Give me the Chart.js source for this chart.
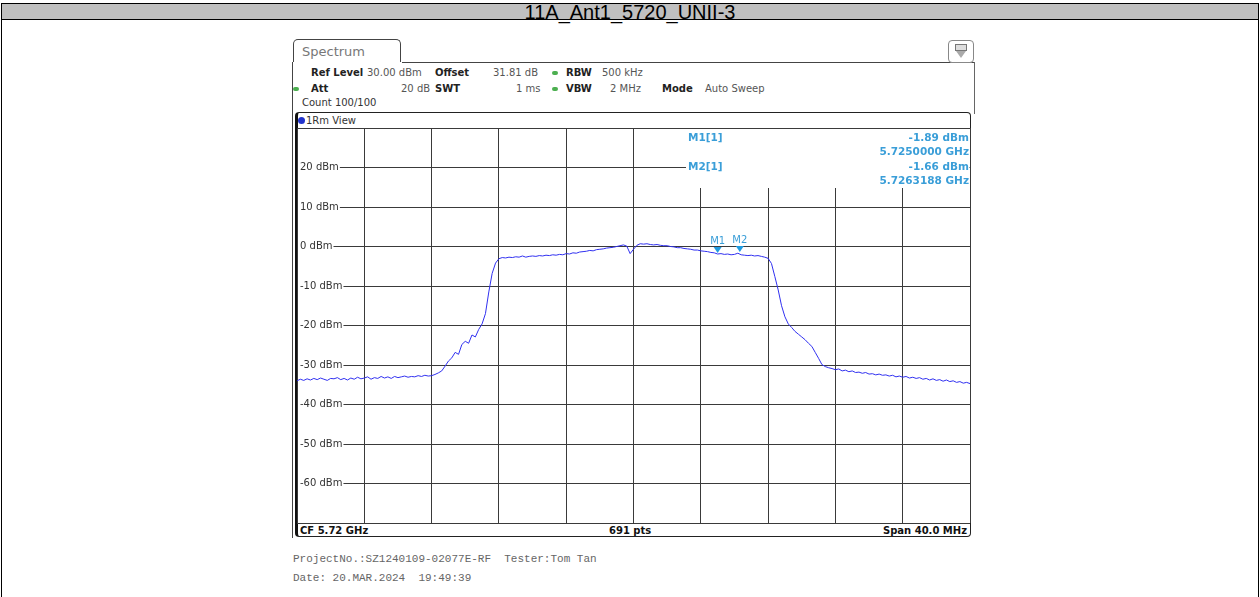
<!DOCTYPE html>
<html>
<head>
<meta charset="utf-8">
<script src="https://cdn.jsdelivr.net/npm/chart.js@4.4.1/dist/chart.umd.min.js"></script>
<style>
  html, body { margin: 0; padding: 0; background: #fff; }
  #page { position: relative; width: 1260px; height: 597px; overflow: hidden; font-family: "DejaVu Sans", sans-serif; }
  .abs { position: absolute; white-space: nowrap; }
  #outer { left: 1px; top: 3px; width: 1256px; height: 620px; border: 1px solid #000; border-bottom: none; }
  #title { left: 1px; top: 3px; width: 1256px; height: 15px; background: #c0c0c0; border: 1px solid #000;
           font-family: "Liberation Sans", Arial, sans-serif; font-size: 20px; line-height: 16px; text-align: center; color: #000; }
  #tab { left: 293px; top: 39px; width: 108px; height: 23px; border: 1.5px solid #444; border-bottom: none; border-radius: 5px 5px 0 0;
         background: #fff; font-size: 13px; color: #777; line-height: 24px; padding-left: 8px; box-sizing: border-box; }
  #headline { left: 402px; top: 62px; width: 573px; height: 0; border-top: 1.5px solid #444; }
  #rightline { left: 974px; top: 62px; width: 0; height: 52px; border-left: 1px solid #666; }
  #leftline { left: 292px; top: 62px; width: 0; height: 476px; border-left: 1.5px solid #444; }
  #icon { left: 948px; top: 40px; width: 24px; height: 21px; border: 1px solid #888; border-radius: 4px; background: #fff; }
  #frame { left: 295px; top: 112px; width: 676px; height: 425px; border: 1.5px solid #222; border-left: 3px solid #111;
           border-radius: 4px; box-sizing: border-box; background: #fff; }
  #viewbar { left: 297px; top: 113px; width: 673px; height: 15px; border-bottom: 1px solid #222; font-size: 10px; color: #333; line-height: 15px; }
  #bottombar { left: 297px; top: 523px; width: 673px; height: 13px; border-top: 1px solid #222; font-size: 10px; font-weight: bold; color: #111; line-height: 14px; }
  .h { font-size: 10px; color: #555; line-height: 12px; }
  .b { font-weight: bold; color: #222; }
  .dot { width: 6px; height: 4px; border-radius: 3px; background: #4caf50; }
  .foot { font-family: "Liberation Mono", "DejaVu Sans Mono", monospace; font-size: 11px; color: #666; white-space: pre; }
  #chart { position: absolute; left: 0; top: 0; }
</style>
</head>
<body>
<div id="page">
  <div id="outer" class="abs"></div>
  <div id="title" class="abs">11A_Ant1_5720_UNII-3</div>

  <div id="leftline" class="abs"></div>
  <div id="tab" class="abs">Spectrum</div>
  <div id="headline" class="abs"></div>
  <div id="rightline" class="abs"></div>
  <div id="icon" class="abs">
    <div class="abs" style="left:6px;top:3px;width:10px;height:5px;border:1px solid #777;background:#ddd;"></div>
    <div class="abs" style="left:7px;top:10px;width:0;height:0;border-left:5px solid transparent;border-right:5px solid transparent;border-top:7px solid #aaa;"></div>
  </div>

  <span class="abs h b" style="left:311px;top:67px;">Ref Level</span>
  <span class="abs h" style="left:367px;top:67px;">30.00 dBm</span>
  <span class="abs h b" style="left:435px;top:67px;">Offset</span>
  <span class="abs h" style="left:493px;top:67px;">31.81 dB</span>
  <span class="abs dot" style="left:552px;top:71px;"></span>
  <span class="abs h b" style="left:566px;top:67px;">RBW</span>
  <span class="abs h" style="left:602px;top:67px;">500 kHz</span>

  <span class="abs dot" style="left:293px;top:87px;"></span>
  <span class="abs h b" style="left:311px;top:83px;">Att</span>
  <span class="abs h" style="left:401px;top:83px;">20 dB</span>
  <span class="abs h b" style="left:435px;top:83px;">SWT</span>
  <span class="abs h" style="left:516px;top:83px;">1 ms</span>
  <span class="abs dot" style="left:552px;top:87px;"></span>
  <span class="abs h b" style="left:566px;top:83px;">VBW</span>
  <span class="abs h" style="left:610px;top:83px;">2 MHz</span>
  <span class="abs h b" style="left:662px;top:83px;">Mode</span>
  <span class="abs h" style="left:705px;top:83px;">Auto Sweep</span>

  <span class="abs h" style="left:302px;top:97px;color:#333;">Count 100/100</span>

  <div id="frame" class="abs"></div>
  <div id="viewbar" class="abs">
    <span class="abs" style="left:1px;top:4px;width:7px;height:7px;border-radius:4px;background:#2233cc;"></span>
    <span class="abs" style="left:9px;top:0;">1Rm View</span>
  </div>
  <div id="bottombar" class="abs">
    <span class="abs" style="left:3px;top:0;">CF 5.72 GHz</span>
    <span class="abs" style="left:312px;top:0;">691 pts</span>
    <span class="abs" style="right:3px;top:0;">Span 40.0 MHz</span>
  </div>

  <div class="abs foot" style="left:293px;top:553px;">ProjectNo.:SZ1240109-02077E-RF  Tester:Tom Tan</div>
  <div class="abs foot" style="left:293px;top:572px;">Date: 20.MAR.2024  19:49:39</div>

  <canvas id="chart" width="1260" height="597"></canvas>
</div>

<script>
// Sweep: 5.70 .. 5.74 GHz, trace read every 0.2 MHz
const freqStartMHz = 5700;
const freqStepMHz = 0.2;
const levels = [
  -34.0, -33.6, -33.9, -33.5, -33.8, -33.4, -33.7, -33.3, -33.6, -33.9,
  -33.4, -33.5, -33.2, -33.7, -33.4, -33.8, -33.3, -33.6, -33.1, -33.5,
  -33.3, -33.0, -33.6, -33.2, -33.4, -32.9, -33.3, -33.0, -33.4, -32.9,
  -33.2, -33.0, -32.8, -33.1, -32.9, -33.0, -32.7, -32.9, -32.6, -32.8,
  -32.7, -32.4, -32.0, -31.5, -30.3, -29.0, -28.2, -26.8, -27.3, -24.8,
  -24.0, -24.5, -22.4, -22.9, -21.0, -19.6, -17.0, -11.5, -6.8, -4.2,
  -3.1, -2.8, -2.9, -2.7, -2.8, -2.6, -2.7, -2.4, -2.7, -2.5,
  -2.4, -2.5, -2.3, -2.4, -2.2, -2.3, -2.1, -2.2, -2.0, -2.1,
  -1.8, -1.9, -1.6, -1.7, -1.4, -1.3, -1.2, -1.0, -1.1, -0.8,
  -0.7, -0.6, -0.4, -0.3, -0.2, 0.0, 0.2, 0.4, 0.1, -1.8,
  -0.7, 0.3, 0.7, 0.6, 0.7, 0.5, 0.4, 0.5, 0.3, 0.2,
  0.2, 0.0, -0.1, -0.3, -0.3, -0.5, -0.6, -0.7, -0.9, -0.9,
  -1.1, -1.2, -1.3, -1.5, -1.6, -1.9, -1.8, -2.0, -1.9, -2.1,
  -2.0, -1.7, -2.1, -2.2, -2.3, -2.2, -2.4, -2.3, -2.5, -2.7,
  -3.0, -4.3, -7.6, -11.0, -15.0, -17.8, -19.6, -20.5, -21.5, -22.2,
  -22.9, -23.6, -24.5, -25.3, -26.8, -28.3, -29.9, -30.4, -30.7, -30.9,
  -31.2, -31.0, -31.5, -31.3, -31.7, -31.5, -31.9, -31.8, -32.1, -31.9,
  -32.3, -32.2, -32.5, -32.3, -32.6, -32.5, -32.8, -32.6, -33.0, -32.8,
  -33.1, -32.9, -33.3, -33.1, -33.4, -33.2, -33.6, -33.4, -33.8, -33.5,
  -33.9, -33.7, -34.1, -33.8, -34.2, -34.0, -34.4, -34.2, -34.6, -34.4,
  -34.7
];

// y axis labels (drawn inside the grid)
const yTickValues = [20, 10, 0, -10, -20, -30, -40, -50, -60];
const yTickLabels = ['20 dBm', '10 dBm', '0 dBm', '-10 dBm', '-20 dBm', '-30 dBm', '-40 dBm', '-50 dBm', '-60 dBm'];

// markers
const markerNames = ['M1', 'M2'];
const markerFreqsMHz = [5725.0, 5726.3188];
const markerLevels = [-1.89, -1.66];
const markerReadLabels = ['M1[1]', 'M2[1]'];
const markerReadLevels = ['-1.89 dBm', '-1.66 dBm'];
const markerReadFreqs = ['5.7250000 GHz', '5.7263188 GHz'];

const points = levels.map((v, i) => ({ x: freqStartMHz + i * freqStepMHz, y: v }));

const overlay = {
  id: 'overlay',
  afterDraw(chart) {
    const c = chart.ctx;
    const a = chart.chartArea;
    const xs = chart.scales.x;
    const ys = chart.scales.y;
    c.save();

    // marker table hides the top right of the grid
    c.fillStyle = '#fff';
    c.fillRect(686, a.top + 1, a.right - 686 - 0.5, 188 - a.top - 1);

    // level labels
    c.font = '10px "DejaVu Sans"';
    c.textBaseline = 'middle';
    yTickValues.forEach((v, i) => {
      const y = ys.getPixelForValue(v);
      const w = c.measureText(yTickLabels[i]).width;
      c.fillStyle = '#fff';
      c.fillRect(a.left + 1, y - 6, w + 3, 12);
      c.fillStyle = '#333';
      c.textAlign = 'left';
      c.fillText(yTickLabels[i], a.left + 3, y);
    });

    // marker readouts
    c.font = 'bold 10.5px "DejaVu Sans"';
    c.fillStyle = '#3a9ed8';
    markerReadLabels.forEach((t, i) => {
      const y0 = 138 + i * 29;
      c.textAlign = 'left';
      c.fillText(t, 688, y0);
      c.textAlign = 'right';
      c.fillText(markerReadLevels[i], a.right - 1, y0);
      c.fillText(markerReadFreqs[i], a.right - 1, y0 + 14);
    });

    // marker symbols on the trace
    c.font = '10px "DejaVu Sans"';
    markerNames.forEach((n, i) => {
      const x = xs.getPixelForValue(markerFreqsMHz[i]);
      const y = ys.getPixelForValue(markerLevels[i]);
      c.fillStyle = '#1f9be0';
      c.beginPath();
      c.moveTo(x, y - 1);
      c.lineTo(x - 4, y - 7);
      c.lineTo(x + 4, y - 7);
      c.closePath();
      c.fill();
      c.fillStyle = '#3a9ed8';
      c.textAlign = 'center';
      c.fillText(n, x, y - 13);
    });
    c.restore();
  }
};

new Chart(document.getElementById('chart').getContext('2d'), {
  type: 'line',
  data: {
    datasets: [{
      data: points,
      borderColor: '#3030f0',
      borderWidth: 1,
      pointRadius: 0,
      tension: 0,
      fill: false
    }]
  },
  options: {
    responsive: false,
    animation: false,
    events: [],
    layout: { padding: { left: 297, top: 128, right: 290, bottom: 74 } },
    plugins: { legend: { display: false }, tooltip: { enabled: false } },
    scales: {
      x: {
        type: 'linear', min: 5700, max: 5740,
        ticks: { display: false, stepSize: 4 },
        grid: { color: '#3a3a3a', lineWidth: 1, drawTicks: false },
        border: { display: false }
      },
      y: {
        type: 'linear', min: -70, max: 30,
        ticks: { display: false, stepSize: 10 },
        grid: { color: '#3a3a3a', lineWidth: 1, drawTicks: false },
        border: { display: false }
      }
    }
  },
  plugins: [overlay]
});
</script>
</body>
</html>
